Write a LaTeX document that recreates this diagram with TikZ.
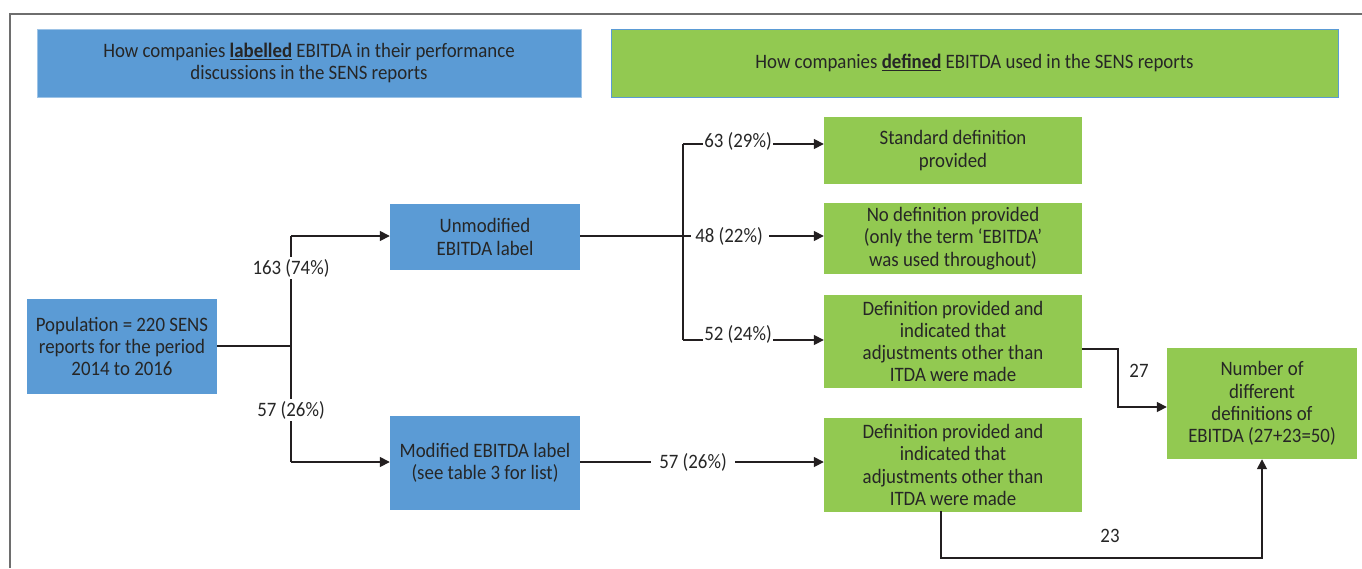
\documentclass[tikz,border=0pt]{standalone}
\usepackage{fontspec}
\setmainfont{Carlito}[FakeStretch=0.92]
\usetikzlibrary{arrows.meta,calc}
\definecolor{bluebox}{RGB}{91,155,213}
\definecolor{greenbox}{RGB}{146,201,81}
\definecolor{txt}{RGB}{38,38,38}
\definecolor{lineclr}{RGB}{35,31,32}
\begin{document}
\begin{tikzpicture}[x=1pt,y=-1pt,
  every node/.style={text=txt,font=\fontsize{20.5}{22.3}\selectfont},
  bbox/.style={fill=bluebox,draw=none,minimum width=#1,align=center,inner sep=0pt},
  gbox/.style={fill=greenbox,draw=none,minimum width=#1,align=center,inner sep=0pt},
  conn/.style={draw=lineclr,line width=1.6pt},
  arr/.style={conn,-{Triangle[length=10pt,width=10pt]}},
  lab/.style={fill=white,inner sep=2pt}]
\useasboundingbox (0,0) rectangle (1362,568);
\draw[draw={rgb,255:red,110;green,110;blue,110},line width=1.3pt] (1362,14) -- (10,14) -- (10,568);
% headers
\node[bbox=544pt,minimum height=68pt,draw={rgb,255:red,157;green,195;blue,230},line width=0.8pt] (h1) at (309,63)
  {How companies \underline{\textbf{labelled}} EBITDA in their performance\\discussions in the SENS reports};
\node[gbox=727pt,minimum height=68pt,draw=bluebox,line width=0.8pt] (h2) at (974.5,63)
  {How companies \underline{\textbf{defined}} EBITDA used in the SENS reports};
% boxes
\node[bbox=190pt,minimum height=95pt] (pop) at (122,346.5) {Population = 220 SENS\\reports for the period\\2014 to 2016};
\node[bbox=190pt,minimum height=66pt] (unmod) at (485,237) {Unmodified\\EBITDA label};
\node[bbox=190pt,minimum height=94pt] (mod) at (485,463) {Modified EBITDA label\\(see table 3 for list)};
\node[gbox=258pt,minimum height=67pt] (std) at (953,150.5) {Standard definition\\provided};
\node[gbox=258pt,minimum height=71pt] (nodef) at (953,238.5) {No definition provided\\(only the term ‘EBITDA’\\was used throughout)};
\node[gbox=258pt,minimum height=93pt] (def1) at (953,341.5) {Definition provided and\\indicated that\\adjustments other than\\ITDA were made};
\node[gbox=258pt,minimum height=94pt] (def2) at (953,465) {Definition provided and\\indicated that\\adjustments other than\\ITDA were made};
\node[gbox=190pt,minimum height=111pt] (num) at (1262,403.5) {Number of\\different\\definitions of\\EBITDA (27+23=50)};
% connectors left
\coordinate (j1) at (291,346);
\coordinate (j1t) at (291,236);
\coordinate (j1b) at (291,462);
\draw[conn] (pop.east |- j1) -- (j1);
\draw[conn] (j1t) -- (j1b);
\draw[arr] (j1t) -- (j1t -| unmod.west);
\draw[arr] (j1b) -- (j1b -| mod.west);
\node[lab] (l163) at (291,268) {163 (74\%)};
\node[lab] (l57a) at (291,410) {57 (26\%)};
% connectors middle
\coordinate (j2) at (683,236);
\coordinate (j2t) at (683,144);
\coordinate (j2b) at (683,340);
\draw[conn] (j2 -| unmod.east) -- (j2);
\draw[conn] (j2t) -- (j2b);
\draw[arr] (j2t) -- (j2t -| std.west);
\draw[arr] (j2b) -- (j2b -| def1.west);
\node[inner sep=0pt] (l48) at (729,236) {48 (22\%)};
\coordinate (c48) at (769,236);
\draw[conn] (j2) -- ([xshift=-4pt]l48.west |- j2);
\draw[arr] (c48) -- (c48 -| nodef.west);
\node[lab,inner xsep=1pt] (l63) at (738,141) {63 (29\%)};
\node[lab,inner xsep=1pt] (l52) at (738,334) {52 (24\%)};
\coordinate (m1) at (580,462);
\draw[arr] (m1) -- (m1 -| def2.west);
\node[lab,inner xsep=8pt] (l57b) at (693,462) {57 (26\%)};
% connectors to num
\coordinate (a1) at (1082,349);
\coordinate (a2) at (1118,349);
\coordinate (a3) at (1118,407);
\draw[arr] (a1) -- (a2) -- (a3) -- (a3 -| num.west);
\node (l27) at (1139,371) {27};
\coordinate (b1) at (941,511);
\coordinate (b2) at (941,558);
\coordinate (b3) at (1262,558);
\draw[arr] (b1) -- (b2) -- (b3) -- (num.south);
\node (l23) at (1110,536) {23};
\end{tikzpicture}
\end{document}
